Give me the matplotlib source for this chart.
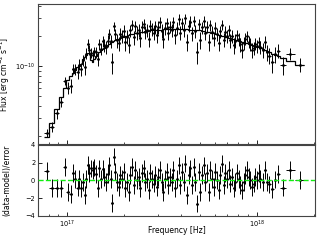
import numpy as np
import matplotlib
matplotlib.use("Agg")
import matplotlib.pyplot as plt

# Frequencies of bin centres, in units of 1e17 Hz
freq_1e17 = [
    0.783, 0.832, 0.884, 0.932, 0.970, 1.010, 1.047, 1.073, 1.104, 1.136,
    1.159, 1.187, 1.211, 1.236, 1.262, 1.287, 1.308, 1.335, 1.362, 1.390,
    1.418, 1.447, 1.477, 1.507, 1.538, 1.569, 1.601, 1.634, 1.667, 1.701,
    1.722, 1.757, 1.793, 1.829, 1.867, 1.905, 1.944, 1.983, 2.024, 2.065,
    2.107, 2.150, 2.194, 2.239, 2.285, 2.331, 2.379, 2.427, 2.477, 2.527,
    2.579, 2.631, 2.685, 2.740, 2.796, 2.853, 2.911, 2.970, 3.031, 3.093,
    3.156, 3.220, 3.286, 3.353, 3.421, 3.491, 3.562, 3.635, 3.709, 3.800,
    3.878, 3.957, 4.038, 4.120, 4.204, 4.290, 4.378, 4.467, 4.558, 4.651,
    4.746, 4.843, 4.942, 5.043, 5.146, 5.251, 5.358, 5.467, 5.579, 5.693,
    5.809, 5.927, 6.048, 6.172, 6.298, 6.426, 6.557, 6.691, 6.828, 6.967,
    7.109, 7.254, 7.402, 7.553, 7.708, 7.865, 8.025, 8.189, 8.356, 8.527,
    8.701, 8.878, 9.059, 9.244, 9.433, 9.625, 9.822, 10.02, 10.23, 10.44,
    10.73, 11.00, 11.31, 11.64, 12.02, 12.51, 12.93, 13.67, 15.01, 16.80,
]

# Model flux, in units of 1e-10 erg cm^-2 s^-1
model_1e10 = [
    0.195, 0.27, 0.37, 0.49, 0.60, 0.72, 0.79, 0.85, 0.91, 0.98,
    1.01, 1.05, 1.17, 1.23, 1.30, 1.36, 1.32, 1.15, 1.11, 1.19,
    1.26, 1.32, 1.38, 1.45, 1.48, 1.53, 1.59, 1.62, 1.68, 1.74,
    1.76, 1.78, 1.82, 1.86, 1.88, 1.93, 1.95, 1.97, 1.99, 2.02,
    2.04, 2.09, 2.10, 2.11, 2.14, 2.15, 2.16, 2.19, 2.20, 2.21,
    2.23, 2.24, 2.25, 2.27, 2.28, 2.28, 2.29, 2.30, 2.31, 2.32,
    2.32, 2.33, 2.33, 2.34, 2.34, 2.34, 2.34, 2.34, 2.34, 2.34,
    2.34, 2.34, 2.34, 2.34, 2.33, 2.33, 2.32, 2.32, 2.31, 2.30,
    2.29, 2.28, 2.28, 2.27, 2.25, 2.23, 2.21, 2.20, 2.18, 2.16,
    2.14, 2.12, 2.10, 2.08, 2.06, 2.04, 2.02, 1.99, 1.97, 1.95,
    1.93, 1.91, 1.88, 1.86, 1.84, 1.82, 1.80, 1.78, 1.75, 1.73,
    1.71, 1.69, 1.66, 1.64, 1.62, 1.60, 1.58, 1.56, 1.54, 1.51,
    1.48, 1.45, 1.41, 1.38, 1.33, 1.29, 1.26, 1.20, 1.12, 1.02,
]

# (data - model) / error
residual = [
    1.05, -0.83, -0.85, -0.9, 1.55, -1.3, -1.5, 0.8, 0.2, -0.8,
    0.2, -0.9, -0.15, -1.6, 0.2, 1.75, 0.8, 1.35, 1.2, 1.45,
    0.7, -0.9, 1.35, 0.2, 1.3, 0.4, -0.15, 0.7, 1.7, 0.2,
    -2.5, 2.7, 1.0, -0.2, -0.7, 0.6, 0.2, 1.0, -0.9, -0.15,
    -1.3, 0.6, 1.55, -0.5, 1.2, 0.05, 0.4, -0.9, 0.8, 1.35,
    -0.15, 0.2, -1.1, 0.8, 0.2, -0.35, 0.6, -0.7, 0.4, 1.2,
    -0.15, -1.3, 0.2, 1.0, -0.5, 0.4, -0.15, 1.2, -0.9, 0.2,
    1.7, -0.5, 1.0, -0.15, 1.9, -1.65, 0.6, 1.35, -0.5, 1.55,
    -0.15, -2.6, 1.0, -1.3, 0.6, 1.7, -0.15, 0.8, -1.3, 1.2,
    0.2, -0.7, 1.0, 0.05, -1.1, 0.6, 1.9, -0.5, 0.8, 0.2,
    1.2, -0.35, 0.4, -0.9, -0.15, 0.8, 0.2, -0.5, -1.1, -0.15,
    0.6, 1.2, 0.4, 0.05, -0.7, -0.35, 0.4, 0.05, 0.8, 0.2,
    -0.15, 1.2, -0.15, -0.45, -1.0, 0.1, 0.7, -0.8, 1.2, 0.05,
]

# Relative flux error of each bin
rel_err = [
    0.10, 0.10, 0.11, 0.11, 0.12, 0.12, 0.13, 0.13, 0.13, 0.13,
    0.13, 0.13, 0.13, 0.13, 0.13, 0.13, 0.13, 0.13, 0.13, 0.13,
    0.13, 0.13, 0.15, 0.15, 0.15, 0.15, 0.15, 0.15, 0.15, 0.15,
    0.15, 0.15, 0.15, 0.15, 0.15, 0.15, 0.15, 0.15, 0.15, 0.15,
    0.15, 0.15, 0.15, 0.15, 0.15, 0.15, 0.15, 0.15, 0.15, 0.15,
    0.15, 0.15, 0.15, 0.15, 0.15, 0.15, 0.15, 0.15, 0.15, 0.15,
    0.15, 0.15, 0.15, 0.15, 0.15, 0.15, 0.15, 0.15, 0.15, 0.15,
    0.15, 0.15, 0.15, 0.15, 0.15, 0.15, 0.15, 0.15, 0.15, 0.15,
    0.15, 0.15, 0.15, 0.15, 0.15, 0.15, 0.15, 0.15, 0.15, 0.15,
    0.15, 0.15, 0.15, 0.15, 0.15, 0.15, 0.15, 0.15, 0.15, 0.15,
    0.15, 0.15, 0.15, 0.15, 0.15, 0.15, 0.15, 0.15, 0.15, 0.15,
    0.15, 0.15, 0.15, 0.15, 0.15, 0.15, 0.15, 0.15, 0.15, 0.15,
    0.17, 0.17, 0.17, 0.17, 0.18, 0.18, 0.18, 0.18, 0.16, 0.16,
]

freq = np.array(freq_1e17) * 1e17
model = np.array(model_1e10) * 1e-10
resid = np.array(residual)
ferr = np.array(rel_err) * model
flux = model + resid * ferr

# bin edges (geometric midpoints)
lf = np.log10(freq)
mid = 0.5 * (lf[1:] + lf[:-1])
edges_log = np.concatenate([[2 * lf[0] - mid[0]], mid, [2 * lf[-1] - mid[-1]]])
edges = 10 ** edges_log
xerr = np.vstack([freq - edges[:-1], edges[1:] - freq])

plt.rcParams['font.family'] = 'DejaVu Sans'
fig = plt.figure(figsize=(3.2, 2.4), dpi=100)
ax1 = fig.add_axes([0.119, 0.400, 0.866, 0.583])
ax2 = fig.add_axes([0.119, 0.100, 0.866, 0.296], sharex=ax1)

ekw = dict(fmt='.', color='black', ms=2, elinewidth=0.7, capsize=0)
ax1.errorbar(freq, flux, yerr=ferr, xerr=xerr, **ekw)
ax1.stairs(model, edges, baseline=None, color='black', lw=0.9)
ax1.set_xscale('log')
ax1.set_yscale('log')
ax1.set_xlim(7.03e16, 2.03e18)
ax1.set_ylim(1.66e-11, 4.17e-10)
ax1.set_ylabel(r'Flux [erg cm$^{-2}$ s$^{-1}$]', fontsize=5.5)
ax1.tick_params(labelbottom=False)

ax2.errorbar(freq, resid, yerr=np.ones_like(resid), xerr=xerr, **ekw)
ax2.axhline(0, color='#11ee11', ls='--', lw=1.0, zorder=3)
ax2.set_ylim(-4, 4)
ax2.set_yticks([-4, -2, 0, 2, 4])
ax2.set_xlabel('Frequency [Hz]', fontsize=5.5)
ax2.set_ylabel('(data-model)/error', fontsize=5.5)
ax2.xaxis.set_label_coords(0.5, -0.14)
ax2.xaxis.label.set_va('top')

for ax in (ax1, ax2):
    ax.tick_params(which='both', direction='in', labelsize=4.8,
                   top=False, right=False, pad=2)
    ax.tick_params(which='major', length=3, width=0.6)
    ax.tick_params(which='minor', length=1.8, width=0.5)
    for s in ax.spines.values():
        s.set_linewidth(0.8)
        s.set_color('#444444')
    ax.yaxis.set_label_coords(-0.095, 0.5)

fig.savefig('out.png', dpi=100)
